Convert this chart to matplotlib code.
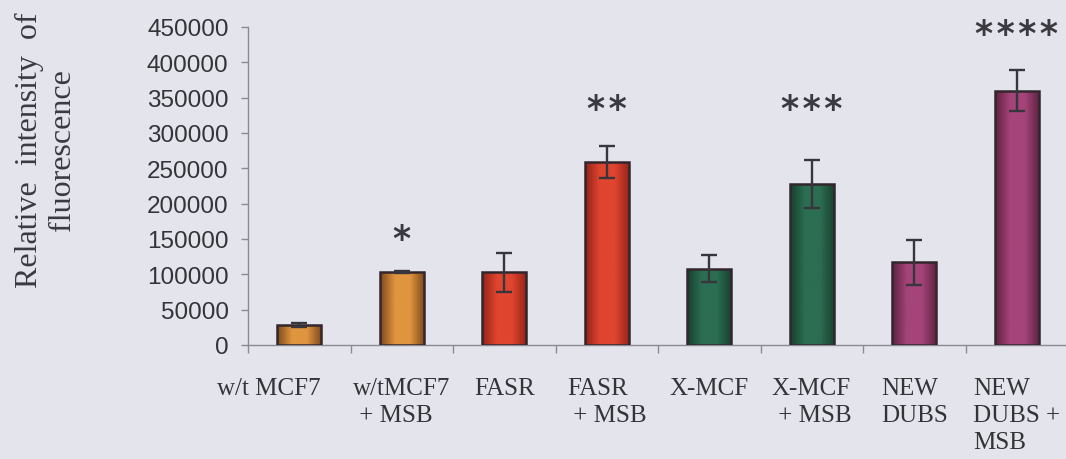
import numpy as np
import matplotlib
matplotlib.use("Agg")
import matplotlib.pyplot as plt
from matplotlib.colors import LinearSegmentedColormap
from matplotlib.transforms import ScaledTranslation

# ---- data -------------------------------------------------------------
categories = ["w/t MCF7", "w/tMCF7\n + MSB", "FASR", "FASR\n + MSB",
              "X-MCF", "X-MCF\n + MSB", "NEW\nDUBS", "NEW\nDUBS +\nMSB"]
means = [28500, 103500, 103000, 259000, 108000, 228000, 117000, 360000]
errors = [3000, 1500, 27500, 23000, 19500, 34000, 32000, 29000]
stars = ["", "*", "", "**", "", "***", "", "****"]
star_y = [None, 150000, None, 334000, None, 334000, None, 440000]
y_ticks = [0, 50000, 100000, 150000, 200000, 250000, 300000, 350000, 400000, 450000]

# (edge shade, centre highlight) for each cell line
shades = [("#7e4a1c", "#e0953f"), ("#7e4a1c", "#e0953f"),
          ("#952318", "#e0452f"), ("#952318", "#e0452f"),
          ("#17402f", "#2c6e52"), ("#17402f", "#2c6e52"),
          ("#5e2240", "#a4447a"), ("#5e2240", "#a4447a")]

bg = "#e4e4ed"
axis_grey = "#8a8a92"
text_dark = "#333338"

fig = plt.figure(figsize=(10.66, 4.6), dpi=100, facecolor=bg)
ax = fig.add_axes([248 / 1066, 1 - 346 / 460, 820 / 1066, 318 / 460], facecolor=bg)

x = np.arange(len(categories))
width = 0.43

bars = ax.bar(x, means, width=width, facecolor="none",
              edgecolor="#32262c", linewidth=1.8, zorder=3)

# cylinder-style shading inside each bar
for rect, (edge, mid) in zip(bars, shades):
    cmap = LinearSegmentedColormap.from_list("cyl", [edge, mid, mid, edge])
    grad = np.linspace(0, 1, 64).reshape(1, -1)
    x0 = rect.get_x()
    im = ax.imshow(grad, extent=[x0, x0 + rect.get_width(), 0, rect.get_height()],
                   aspect="auto", cmap=cmap, zorder=2, interpolation="bicubic")
    im.set_clip_path(rect)

ax.errorbar(x, means, yerr=errors, fmt="none", ecolor="#36363c",
            elinewidth=1.7, capsize=5.5, capthick=1.7, zorder=4)

# significance marks, spaced slightly apart
for xi, s, sy in zip(x, stars, star_y):
    if s:
        ax.text(xi, sy, "\u200a".join(s), ha="center", va="center", fontsize=25,
                family="DejaVu Sans", fontweight="bold", color="#3a3a40",
                clip_on=False)

ax.set_xlim(-0.5, len(categories) - 0.5)
ax.set_ylim(0, 450000)

ax.set_yticks(y_ticks)
ax.set_yticklabels([str(v) for v in y_ticks], family="Liberation Sans",
                   fontsize=17.5, color=text_dark)
ax.tick_params(axis="y", direction="out", length=5, width=1, color=axis_grey, pad=9)

ax.set_xticks(x)
ax.set_xticklabels(categories, family="Liberation Serif", fontsize=18,
                   color=text_dark, ha="center", multialignment="left",
                   linespacing=1.3)
ax.tick_params(axis="x", which="major", length=0, pad=23)
ax.set_xticks(np.arange(-0.5, len(categories)), minor=True)
ax.tick_params(axis="x", which="minor", direction="out", length=6, width=1, color=axis_grey)

first = ax.get_xticklabels()[0]
first.set_transform(first.get_transform() + ScaledTranslation(-0.30, 0, fig.dpi_scale_trans))

for side in ("top", "right"):
    ax.spines[side].set_visible(False)
for side in ("left", "bottom"):
    ax.spines[side].set_color(axis_grey)
    ax.spines[side].set_linewidth(1)

fig.text(46 / 1066, 1 - 150 / 460, "Relative  intensity  of\nfluorescence",
         rotation=90, ha="center", va="center", family="Liberation Serif",
         fontsize=23, color="#3a3a40", linespacing=1.2)

fig.savefig("out.png", dpi=100, facecolor=bg)
